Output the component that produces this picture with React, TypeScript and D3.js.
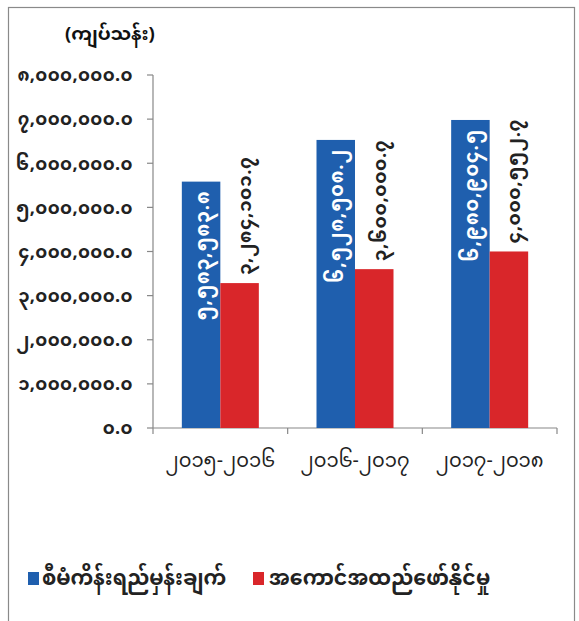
import React from "react";
import * as d3 from "d3";

const categories = ["၂၀၁၅-၂၀၁၆", "၂၀၁၆-၂၀၁၇", "၂၀၁၇-၂၀၁၈"];
const planned = [5583583.8, 6528508.2, 6980904.5];
const actual = [3284101.7, 3600000.7, 4000552.7];
const seriesNames = ["စီမံကိန်းရည်မှန်းချက်", "အကောင်အထည်ဖော်နိုင်မှု"];
const yTicks = [0, 1000000, 2000000, 3000000, 4000000, 5000000, 6000000, 7000000, 8000000];
const unitLabel = "(ကျပ်သန်း)";

const BLUE = "#1f5fae";
const RED = "#d9262a";
const FONT = "'Noto Sans Myanmar', 'Padauk', 'Myanmar Text', 'Noto Sans', sans-serif";

const myDigits = "၀၁၂၃၄၅၆၇၈၉";
const toMy = (s: string) => s.replace(/[0-9]/g, (c) => myDigits[+c]);
const fmt = (v: number) => toMy(d3.format(",.1f")(v));

export default function App() {
  const W = 579, H = 621;
  const left = 153, right = 557, top = 75, bottom = 428;
  const x = d3.scaleBand().domain(categories).range([left, right]).paddingInner(0).paddingOuter(0);
  const y = d3.scaleLinear().domain([0, 8000000]).range([bottom, top]);
  const barW = 38.5;
  const sub = d3.scaleBand().domain(["p", "a"]).range([0, barW * 2]);

  return (
    <svg width={W} height={H} style={{ position: "absolute", left: 0, top: 0, background: "#fff" }} fontFamily={FONT}>
      <rect x={0} y={0} width={W} height={H} fill="#fff" />
      <rect x={8.5} y={7.5} width={566} height={640} fill="none" stroke="#8a8a8a" strokeWidth={1.2} />
      <text x={110} y={40} textAnchor="middle" fontSize={18.5} fontWeight="bold" fill="#111">{unitLabel}</text>
      {/* y axis */}
      <line x1={left} x2={left} y1={top} y2={bottom} stroke="#888" strokeWidth={1.2} />
      {yTicks.map((t) => (
        <g key={t}>
          <line x1={left - 6} x2={left} y1={y(t)} y2={y(t)} stroke="#888" strokeWidth={1.2} />
          <text x={133} y={y(t)} dy="0.35em" textAnchor="end" fontSize={18} fontWeight="bold" letterSpacing={0.4} fill="#222">{fmt(t)}</text>
        </g>
      ))}
      {/* x axis */}
      <line x1={left} x2={right} y1={bottom} y2={bottom} stroke="#888" strokeWidth={1.2} />
      {[...categories.map((c) => x(c) as number), right].map((px, i) => (
        <line key={i} x1={px} x2={px} y1={bottom} y2={bottom + 6} stroke="#888" strokeWidth={1.2} />
      ))}
      {categories.map((c, i) => {
        const cx = (x(c) as number) + x.bandwidth() / 2;
        const x0 = cx - barW;
        const pb = x0 + (sub("p") as number);
        const ab = x0 + (sub("a") as number);
        return (
          <g key={c}>
            <rect x={pb} y={y(planned[i])} width={barW} height={bottom - y(planned[i])} fill={BLUE} />
            <rect x={ab} y={y(actual[i])} width={barW} height={bottom - y(actual[i])} fill={RED} />
            <text transform={`translate(${pb + barW / 2 + 1},${y(planned[i]) + 9}) rotate(-90)`} textAnchor="end" dy="0.35em" fontSize={19} fontWeight="bold" letterSpacing={0.8} fill="#fff">{fmt(planned[i])}</text>
            <text transform={`translate(${ab + barW / 2 + 5},${y(actual[i]) - 8}) rotate(-90)`} textAnchor="start" dy="0.35em" fontSize={18.5} fontWeight="bold" letterSpacing={0.6} fill="#222">{fmt(actual[i])}</text>
            <text x={cx} y={467} textAnchor="middle" fontSize={19.5} fill="#222">{c}</text>
          </g>
        );
      })}
      {/* legend */}
      <rect x={28} y={572} width={11} height={13} fill={BLUE} />
      <text x={42} y={578} dy="0.35em" fontSize={20.5} fontWeight="bold" fill="#222">{seriesNames[0]}</text>
      <rect x={253} y={572} width={11} height={13} fill={RED} />
      <text x={269} y={578} dy="0.35em" fontSize={20.5} fontWeight="bold" fill="#222">{seriesNames[1]}</text>
    </svg>
  );
}
